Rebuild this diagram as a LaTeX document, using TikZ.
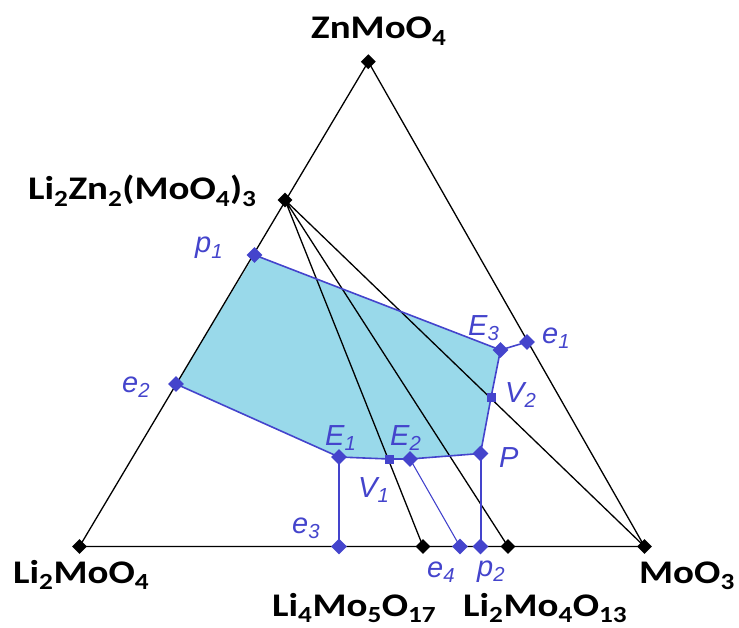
\documentclass[tikz,border=0pt]{standalone}
\usepackage{fontspec}
\newfontfamily\cmpfont{Carlito}[FakeStretch=1.18]
\newfontfamily\ptfont{Liberation Sans}
\usetikzlibrary{shapes.geometric,positioning}
\definecolor{ptblue}{RGB}{68,68,204}
\definecolor{regfill}{RGB}{153,217,234}
\tikzset{
  edge/.style={line width=1.3pt, black},
  bnd/.style={line width=1.6pt, ptblue},
  cmp/.style={diamond, fill=black, inner sep=0pt, minimum size=15pt},
  bpt/.style={diamond, fill=ptblue, inner sep=0pt, minimum size=16pt},
  vpt/.style={rectangle, fill=ptblue, inner sep=0pt, minimum size=9pt},
  cname/.style={anchor=base west, inner sep=0pt, font=\cmpfont\bfseries\fontsize{33}{36}\selectfont},
  pname/.style={anchor=base west, inner sep=0pt, text=ptblue, font=\ptfont\itshape\fontsize{29}{32}\selectfont}
}
\begin{document}
\begin{tikzpicture}[x=1pt,y=-1pt]
  \useasboundingbox (0,0) rectangle (739,628);
  \coordinate (Zn) at (368.3,61.7);
  \coordinate (LiMo) at (79.5,546.5);
  \coordinate (Mo) at (644.5,546.5);
  \coordinate (LiZn) at (285,200);
  \coordinate (L4) at (423,546.5);
  \coordinate (L2) at (508,546.5);
  \coordinate (p1) at (254.5,255);
  \coordinate (e2) at (176,384);
  \coordinate (e1) at (527,342);
  \coordinate (E3) at (500.5,350);
  \coordinate (V2) at (491,397.5);
  \coordinate (P) at (480.5,453.5);
  \coordinate (E2) at (410,459);
  \coordinate (V1) at (389,459);
  \coordinate (E1) at (339,457);
  \coordinate (e3) at (339,546.5);
  \coordinate (e4) at (460,546.5);
  \coordinate (p2) at (480.5,546.5);

  \fill[regfill] (p1) -- (E3) -- (V2) -- (P) -- (E2) -- (V1) -- (E1) -- (e2) -- cycle;
  \draw[edge] (Zn) -- (LiMo) -- (Mo) -- cycle;
  \draw[edge] (LiZn) -- (L4) (LiZn) -- (L2) (LiZn) -- (Mo);
  \draw[bnd] (p1) -- (E3) -- (V2) -- (P) -- (E2) -- (V1) -- (E1) -- (e2);
  \draw[bnd] (E3) -- (e1);
  \draw[bnd, line width=2pt] (E1) -- (e3) (P) -- (p2);
  \draw[bnd, line width=1.1pt] (E2) -- (e4);

  \foreach \c in {Zn,LiZn,LiMo,Mo,L4,L2}
    \node[cmp] (m\c) at (\c) {};
  \foreach \c in {p1,e1,e2,e3,e4,p2,E1,E2,E3,P}
    \node[bpt] (m\c) at (\c) {};
  \foreach \c in {V1,V2}
    \node[vpt] (m\c) at (\c) {};

  \node[cname] (lZn) at (311,39) {ZnMoO\textsubscript{4}};
  \node[cname] (lLiZn) at (28,200) {Li\textsubscript{2}Zn\textsubscript{2}(MoO\textsubscript{4})\textsubscript{3}};
  \node[cname] (lLiMo) at (13,583) {Li\textsubscript{2}MoO\textsubscript{4}};
  \node[cname] (lMo) at (639,583) {MoO\textsubscript{3}};
  \node[cname] (lL4) at (272,616) {Li\textsubscript{4}Mo\textsubscript{5}O\textsubscript{17}};
  \node[cname] (lL2) at (463,616) {Li\textsubscript{2}Mo\textsubscript{4}O\textsubscript{13}};

  \node[pname] (lp1) at (195,253) {p\textsubscript{1}};
  \node[pname] (le2) at (122,392) {e\textsubscript{2}};
  \node[pname] (lE3) at (468,335) {E\textsubscript{3}};
  \node[pname] (le1) at (542,343) {e\textsubscript{1}};
  \node[pname] (lV2) at (505,402) {V\textsubscript{2}};
  \node[pname] (lE1) at (325,445) {E\textsubscript{1}};
  \node[pname] (lE2) at (390,445) {E\textsubscript{2}};
  \node[pname] (lP) at (499,467) {P};
  \node[pname] (lV1) at (358,497) {V\textsubscript{1}};
  \node[pname] (le3) at (292,533) {e\textsubscript{3}};
  \node[pname] (le4) at (427,577) {e\textsubscript{4}};
  \node[pname] (lp2) at (477,576) {p\textsubscript{2}};
\end{tikzpicture}
\end{document}
